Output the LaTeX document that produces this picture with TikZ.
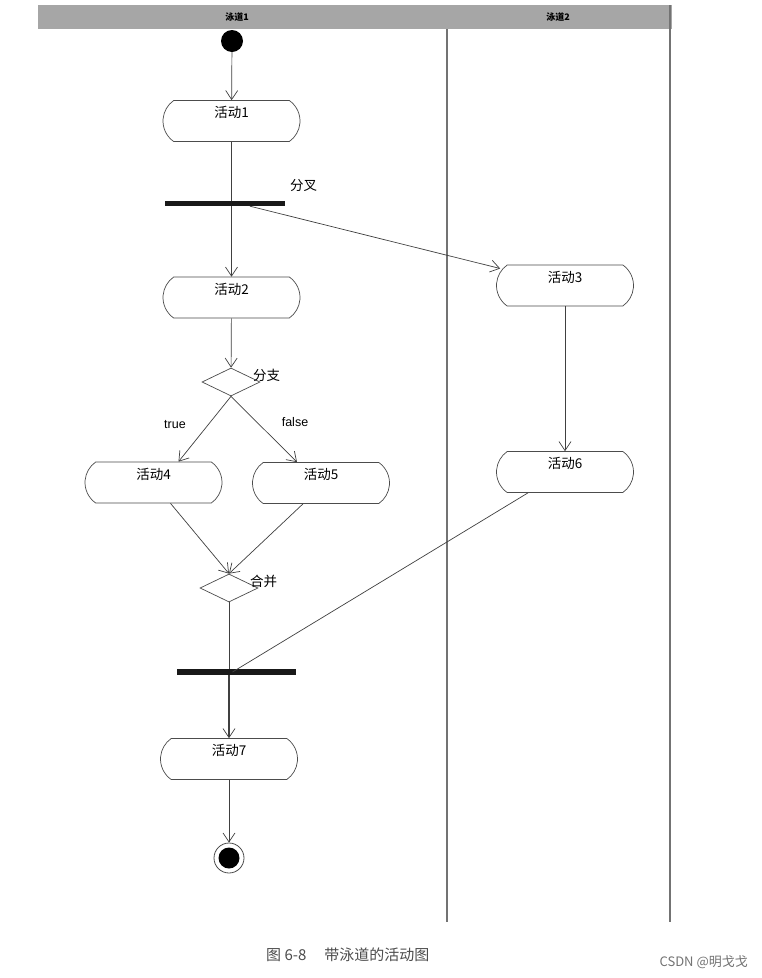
\documentclass[tikz,border=0pt]{standalone}
\usepackage{fontspec}
\setmainfont{Liberation Sans}
\newfontfamily\cjk{Noto Sans CJK SC}
\usetikzlibrary{shapes.misc,shapes.geometric,arrows.meta,calc}
\begin{document}
\begin{tikzpicture}[x=1pt,y=-1pt,
  act/.style={rounded rectangle, rounded rectangle arc length=110, draw=black!70, line width=0.7pt,
    minimum width=137pt, minimum height=41pt, inner sep=0pt, fill=white},
  dec/.style={diamond, draw=black!70, line width=0.7pt, minimum width=58pt, minimum height=28pt, inner sep=0pt, fill=white},
  bar/.style={rectangle, fill=black!90, inner sep=0pt, minimum height=5pt},
  flow/.style={draw=black!75, line width=0.7pt, -{Straight Barb[length=9pt,width=12pt,line width=0.7pt]}},
  plain/.style={draw=black!75, line width=0.7pt},
  lbl/.style={font=\cjk\fontsize{13.5}{15}\selectfont, inner sep=0pt},
  lane/.style={draw=black!55, line width=1.2pt}
]
\useasboundingbox (0,0) rectangle (762,978);
\fill[white] (0,0) rectangle (762,978);
% swimlanes
\fill[black!35] (38,5) rectangle (672,29);
\node[font=\cjk\bfseries\fontsize{9}{10}\selectfont, inner sep=0pt] (l1) at (237,17) {泳道1};
\node[font=\cjk\bfseries\fontsize{9}{10}\selectfont, inner sep=0pt] (l2) at (558,17) {泳道2};
\draw[lane] (447,29) -- (447,922);
\draw[lane] (670,5) -- (670,922);
% nodes
\node[circle, fill=black, minimum size=22pt, inner sep=0pt] (start) at (232,41) {};
\node[act, label={[lbl, anchor=north, yshift=-6pt]north:活动1}] (a1) at (231.5,121) {};
\node[bar, minimum width=120pt] (fork) at (225,203.5) {};
\node[lbl, anchor=west] (tfork) at (290,186) {分叉};
\node[act, label={[lbl, anchor=north, yshift=-6pt]north:活动2}] (a2) at (231.5,297.5) {};
\node[act, label={[lbl, anchor=north, yshift=-6pt]north:活动3}] (a3) at (565,285.5) {};
\node[dec] (d1) at (231,382) {};
\node[lbl, anchor=west] (td1) at (253,375) {分支};
\node[font=\fontsize{12.5}{14}\selectfont, inner sep=0pt] (ttrue) at (175,425) {true};
\node[font=\fontsize{12.5}{14}\selectfont, inner sep=0pt] (tfalse) at (295,422) {false};
\node[act, label={[lbl, anchor=north, yshift=-6pt]north:活动4}] (a4) at (153.5,482.5) {};
\node[act, label={[lbl, anchor=north, yshift=-6pt]north:活动5}] (a5) at (321,483) {};
\node[act, label={[lbl, anchor=north, yshift=-6pt]north:活动6}] (a6) at (565,472) {};
\node[dec] (d2) at (229,588) {};
\node[lbl, anchor=west] (td2) at (250,581) {合并};
\node[bar, minimum width=119pt, minimum height=6pt] (join) at (236.5,672) {};
\node[act, label={[lbl, anchor=north, yshift=-6pt]north:活动7}] (a7) at (229,759) {};
\node[circle, draw=black!70, line width=0.8pt, minimum size=30pt, inner sep=0pt,
  path picture={\fill[black] (path picture bounding box.center) circle (10.5pt);}] (end) at (229,858) {};
% connectors
\draw[flow] (start) -- (a1);
\draw[plain, line width=1.6pt] (a1) -- (a1.south |- fork.north);
\draw[flow] (a1.south |- fork.south) -- (a2);
\coordinate (f3) at ($(fork.south)+(25,0)$);
\draw[flow] (f3) -- ($(a3.west)+(4,-17)$) coordinate (a3in);
\draw[flow] (a2) -- (d1);
\draw[flow] (d1.south) -- ($(a4.north)+(25,0)$);
\draw[flow] (d1.south) -- ($(a5.north)+(-24,0)$);
\draw[flow] ($(a4.south)+(17,0)$) -- (d2.north);
\draw[flow] ($(a5.south)+(-18,0)$) -- (d2.north);
\draw[plain] (d2.south) -- (d2.south |- join.north);
\draw[plain] ($(a6.south)+(-37,0)$) -- ($(join.center)+(-4,0)$);
\draw[flow, line width=1.4pt] (join.south -| a7.north) -- (a7);
\draw[flow] (a7) -- (end);
\draw[flow] (a3) -- (a6);
% caption
\node[font=\cjk\fontsize{15}{17}\selectfont, text=black!70, anchor=west, inner sep=0pt] (cap) at (266,955) {图 6-8\hspace{18pt}带泳道的活动图};
\node[font=\cjk\fontsize{13}{15}\selectfont, text=black!55, anchor=east, inner sep=0pt] (wm) at (748,962) {CSDN @明戈戈};
\end{tikzpicture}
\end{document}
